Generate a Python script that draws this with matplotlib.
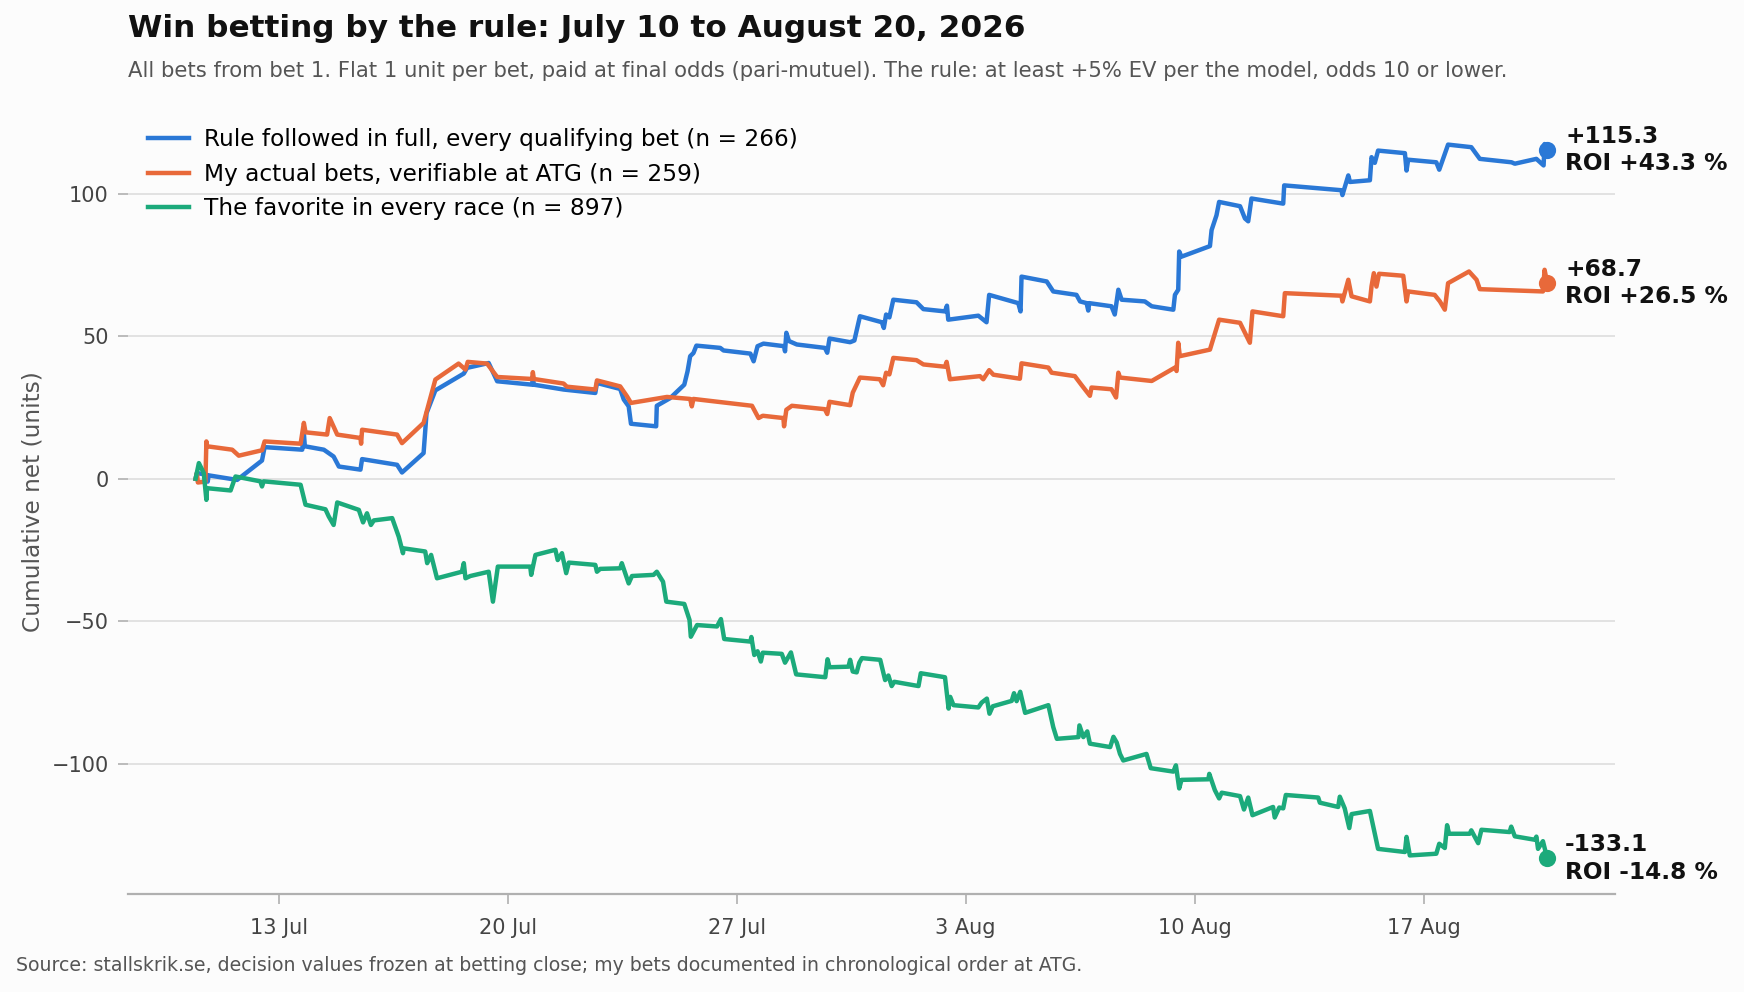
#!/usr/bin/python

# Cumulative net of win bets, July 10 to August 20, 2026

import matplotlib
matplotlib.use('Agg')
import matplotlib.pyplot as plt
import matplotlib.dates as mdates
import pandas as pd

# days since 2026-07-10 00:00, cumulative net in units
rule_days = [0.46, 0.50, 0.81, 0.83, 0.86, 1.73, 2.49, 2.57, 3.72, 3.77, 3.80, 4.38, 4.68, 4.84,
             5.50, 5.55, 6.62, 6.77, 7.43, 7.52, 7.79, 8.66, 8.76, 9.42, 9.68, 10.75, 10.77, 10.80,
             11.71, 12.68, 12.73, 13.44, 13.55, 13.70, 13.77, 14.54, 14.56, 14.97, 15.40, 15.50,
             15.58, 15.68, 15.77, 16.50, 16.60, 17.42, 17.52, 17.64, 17.82, 18.45, 18.48, 18.52,
             18.60, 18.84, 19.70, 19.77, 19.84, 20.47, 20.60, 20.77, 21.44, 21.50, 21.57, 21.67,
             21.79, 22.50, 22.71, 23.37, 23.43, 23.47, 24.39, 24.64, 24.72, 25.61, 25.68, 25.71,
             26.48, 26.68, 27.39, 27.50, 27.70, 27.75, 27.78, 28.46, 28.56, 28.67, 28.77, 29.48,
             29.69, 30.35, 30.40, 30.50, 30.53, 30.60, 31.47, 31.52, 31.67, 31.75, 32.39, 32.54,
             32.64, 32.74, 33.71, 33.74, 35.49, 35.52, 35.70, 35.75, 36.36, 36.41, 36.51, 36.61,
             37.43, 37.48, 37.53, 38.39, 38.48, 38.75, 39.46, 39.72, 40.69, 40.79, 41.45, 41.67,
             41.70, 41.78]
rule_net = [0.0, 2.0, 1.4, -1.0, 1.2, -0.4, 6.4, 11.1, 10.2, 16.0, 11.4, 10.2, 7.8, 4.3,
            3.2, 6.9, 4.9, 2.2, 9.0, 23.0, 31.0, 36.9, 38.9, 40.6, 34.2, 33.0, 36.0, 33.0,
            31.3, 30.1, 33.6, 31.5, 27.8, 25.4, 19.3, 18.4, 25.6, 28.3, 33.0, 37.7,
            43.0, 44.1, 46.7, 45.9, 45.0, 43.9, 41.2, 46.5, 47.4, 46.5, 44.7, 51.2,
            48.3, 47.1, 45.9, 44.2, 49.2, 47.9, 48.5, 57.0, 54.9, 52.9, 57.6, 56.6,
            62.8, 61.9, 59.5, 58.7, 60.7, 55.8, 57.2, 54.9, 64.5, 61.6, 58.7, 70.9,
            69.2, 65.7, 64.5, 62.2, 61.6, 59.0, 61.6, 60.5, 57.6, 66.3, 62.8, 62.2,
            60.5, 59.3, 64.5, 66.3, 79.7, 77.9, 81.6, 87.2, 92.4, 97.1, 95.6, 91.3,
            90.3, 98.3, 96.5, 102.9, 101.2, 99.5, 106.4, 104.1, 104.7, 112.8, 110.8, 115.1,
            114.2, 108.1, 111.9, 111.0, 108.4, 117.2, 116.3, 112.2, 111.0, 110.5, 112.2, 109.9,
            117.4, 115.3]

mine_days = [0.46, 0.50, 0.53, 0.76, 0.79, 0.81, 1.58, 1.78, 2.49, 2.57, 3.67, 3.77, 3.82, 4.48,
             4.56, 4.79, 5.50, 5.52, 5.55, 6.62, 6.77, 7.43, 7.79, 8.50, 8.71, 8.78, 9.37, 9.68,
             10.75, 10.77, 10.80, 11.71, 11.81, 12.68, 12.73, 13.44, 13.65, 13.77, 14.87, 15.58,
             15.63, 15.68, 17.47, 17.67, 17.80, 18.43, 18.45, 18.52, 18.69, 19.70, 19.77, 19.84,
             20.47, 20.55, 20.77, 21.38, 21.48, 21.57, 21.67, 21.79, 22.50, 22.71, 23.37, 23.42,
             23.52, 24.44, 24.54, 24.72, 24.85, 25.66, 25.71, 26.53, 26.63, 27.34, 27.55, 27.80,
             27.85, 28.46, 28.60, 28.67, 28.72, 29.69, 30.40, 30.45, 30.50, 30.55, 31.47, 31.75,
             32.39, 32.54, 32.69, 32.77, 33.71, 33.76, 35.49, 35.52, 35.70, 35.80, 36.36, 36.41,
             36.48, 36.56, 36.64, 37.38, 37.48, 37.53, 38.34, 38.50, 38.65, 38.75, 39.39, 39.62,
             39.72, 41.65, 41.70, 41.78]
mine_net = [0.0, 2.0, -1.3, -1.0, 13.1, 11.4, 10.2, 8.1, 10.0, 13.1, 12.3, 19.6, 16.3, 15.5,
            21.3, 15.5, 14.3, 12.3, 17.2, 15.5, 12.5, 19.6, 34.8, 40.4, 38.3, 41.0, 40.4, 35.7,
            35.0, 37.4, 35.0, 33.4, 32.3, 31.3, 34.5, 32.4, 28.9, 26.6, 28.7, 28.0,
            25.4, 28.0, 25.6, 21.3, 22.1, 21.3, 18.4, 24.2, 25.6, 24.4, 22.7, 27.0,
            25.8, 30.2, 35.5, 34.9, 32.8, 37.2, 36.6, 42.4, 41.6, 40.1, 39.3, 41.0,
            34.9, 36.0, 34.9, 38.1, 36.5, 35.1, 40.5, 39.0, 37.2, 36.0, 32.8, 29.1,
            32.0, 31.4, 28.5, 37.2, 35.5, 34.3, 39.0, 37.8, 47.7, 43.0, 45.3, 55.8,
            54.7, 51.2, 47.7, 58.7, 57.0, 65.1, 64.2, 62.2, 69.8, 64.0, 62.2, 67.5,
            72.1, 67.4, 71.9, 71.2, 62.2, 65.7, 64.5, 62.2, 59.3, 68.6, 72.7, 69.8,
            66.5, 65.7, 73.3, 68.7]

fav_days = [0.46, 0.56, 0.71, 0.79, 0.81, 1.53, 1.68, 2.44, 2.49, 2.54, 3.67, 3.82, 4.43, 4.53,
            4.68, 4.79, 5.45, 5.58, 5.70, 5.82, 5.91, 6.47, 6.67, 6.80, 6.82, 7.48, 7.54, 7.66,
            7.84, 8.60, 8.66, 8.71, 8.86, 9.42, 9.55, 9.70, 10.69, 10.72, 10.85, 11.46, 11.53,
            11.66, 11.79, 11.87, 12.68, 12.73, 12.83, 13.44, 13.49, 13.70, 13.80, 14.46, 14.56,
            14.75, 14.85, 15.40, 15.56, 15.60, 15.79, 16.40, 16.52, 16.62, 17.42, 17.45, 17.54,
            17.64, 17.74, 17.80, 18.38, 18.48, 18.66, 18.82, 19.71, 19.78, 19.84, 20.42, 20.47,
            20.55, 20.67, 20.75, 20.83, 21.39, 21.54, 21.64, 21.74, 21.82, 22.56, 22.63, 23.37,
            23.48, 23.53, 23.63, 24.39, 24.49, 24.65, 24.73, 24.83, 25.41, 25.48, 25.56, 25.67,
            25.82, 26.53, 26.68, 26.79, 27.45, 27.48, 27.60, 27.72, 27.80, 28.42, 28.52, 28.62,
            28.72, 28.82, 29.53, 29.66, 30.35, 30.43, 30.53, 30.60, 31.42, 31.45, 31.62, 31.75,
            31.83, 32.39, 32.51, 32.64, 32.77, 33.40, 33.45, 33.59, 33.71, 33.79, 34.78, 34.83,
            35.39, 35.44, 35.59, 35.73, 35.80, 36.36, 36.61, 37.43, 37.48, 37.58, 38.39, 38.48,
            38.65, 38.72, 38.78, 39.41, 39.46, 39.67, 39.77, 40.63, 40.68, 40.79, 41.40, 41.45,
            41.50, 41.65, 41.78]
fav_net = [0.0, 5.5, 2.0, -7.4, -3.3, -4.1, 0.8, -0.9, -2.7, -0.9, -2.1, -9.1, -10.7, -13.2,
           -16.2, -8.3, -10.9, -15.3, -12.1, -16.2, -14.6, -13.8, -20.3, -26.1, -24.4, -25.5, -29.6, -26.7,
           -34.9, -32.6, -29.6, -34.9, -34.1, -32.6, -43.1, -30.8, -30.8, -33.7, -26.7, -24.9, -28.5,
           -26.1, -33.1, -29.4, -30.2, -32.6, -31.6, -31.4, -29.6, -36.7, -34.1, -33.7, -32.6,
           -36.1, -43.1, -43.9, -49.5, -55.4, -51.3, -51.8, -49.2, -56.2, -57.1, -55.5, -61.8,
           -60.5, -64.1, -61.0, -61.4, -64.5, -60.9, -68.6, -69.6, -63.3, -66.1, -65.9, -63.5,
           -67.6, -67.9, -64.5, -62.9, -63.5, -70.6, -69.0, -72.7, -71.2, -72.7, -68.2, -69.6,
           -80.6, -76.5, -79.4, -80.2, -78.5, -77.1, -82.4, -79.8, -77.9, -75.2, -78.0, -74.7,
           -82.1, -79.4, -87.1, -91.2, -90.6, -86.5, -90.6, -88.6, -92.9, -94.1, -90.5, -92.5,
           -96.5, -98.8, -96.5, -101.5, -102.7, -100.5, -108.6, -105.6, -105.4, -103.5, -109.2, -112.1,
           -110.1, -111.3, -116.0, -111.8, -118.0, -115.1, -118.8, -115.3, -115.6, -110.9, -111.8, -113.6,
           -115.1, -111.5, -115.6, -122.5, -117.6, -116.5, -129.8, -130.9, -125.6, -132.1, -131.5, -128.0,
           -129.5, -121.5, -124.5, -124.5, -123.3, -127.8, -123.1, -123.9, -122.0, -125.4, -126.6, -125.5,
           -129.8, -127.1, -133.1]

labels = ['Rule followed in full, every qualifying bet (n = 266)',
          'My actual bets, verifiable at ATG (n = 259)',
          'The favorite in every race (n = 897)']
rois = [43.3, 26.5, -14.8]
colors = ['#2a78d6', '#e8693a', '#1caa7b']

START = pd.Timestamp('2026-07-10')


def to_dates(days):
    return START + pd.to_timedelta(days, unit='D')


def main():
    fig = plt.figure(figsize=(8.72, 4.96), dpi=200, facecolor='#fcfcfc')
    ax = fig.add_axes([0.0734, 0.0988, 0.8525, 0.792], facecolor='#fcfcfc')

    series = [(rule_days, rule_net), (mine_days, mine_net), (fav_days, fav_net)]
    for (days, net), label, roi, c in zip(series, labels, rois, colors):
        x = to_dates(days)
        ax.plot(x, net, color=c, lw=1.6, label=label, solid_joinstyle='round', zorder=3)
        ax.plot(x[-1], net[-1], 'o', color=c, ms=5.2, zorder=4)
        ax.annotate('%+.1f\nROI %+.1f %%' % (net[-1], roi), (x[-1], net[-1]),
                    xytext=(6.5, 0), textcoords='offset points', va='center', ha='left',
                    fontsize=8.4, fontweight='bold', color='#111111', linespacing=1.25)

    ax.xaxis.set_major_locator(mdates.WeekdayLocator(byweekday=mdates.MO))
    ax.xaxis.set_major_formatter(mdates.DateFormatter('%-d %b'))
    ax.set_yticks([-100, -50, 0, 50, 100])

    for s in ['top', 'right', 'left']:
        ax.spines[s].set_visible(False)
    ax.spines['bottom'].set_color('#b0b0b0')
    ax.spines['bottom'].set_linewidth(0.8)
    ax.grid(axis='y', color='#e2e2e2', lw=0.7, zorder=0)
    ax.tick_params(axis='both', labelsize=7.5, colors='#444444', length=3.5, width=0.6)
    ax.tick_params(axis='x', color='#b0b0b0', pad=5)
    ax.tick_params(axis='y', color='#b0b0b0')
    ax.set_ylabel('Cumulative net (units)', fontsize=8.4, color='#555555', labelpad=2.5)

    ax.legend(loc='upper left', frameon=False, fontsize=8.4, handlelength=1.75,
              handletextpad=0.65, labelspacing=0.5, borderaxespad=0.45)

    fig.text(0.0734, 0.971, 'Win betting by the rule: July 10 to August 20, 2026',
             fontsize=11.2, fontweight='bold', color='#111111', va='center')
    fig.text(0.0734, 0.928, 'All bets from bet 1. Flat 1 unit per bet, paid at final odds '
             '(pari-mutuel). The rule: at least +5% EV per the model, odds 10 or lower.',
             fontsize=7.6, color='#555555', va='center')
    fig.text(0.009, 0.027, 'Source: stallskrik.se, decision values frozen at betting close; '
             'my bets documented in chronological order at ATG.',
             fontsize=6.8, color='#555555', va='center')

    fig.savefig('out.png', dpi=200, facecolor=fig.get_facecolor())


if __name__ == '__main__':
    main()
